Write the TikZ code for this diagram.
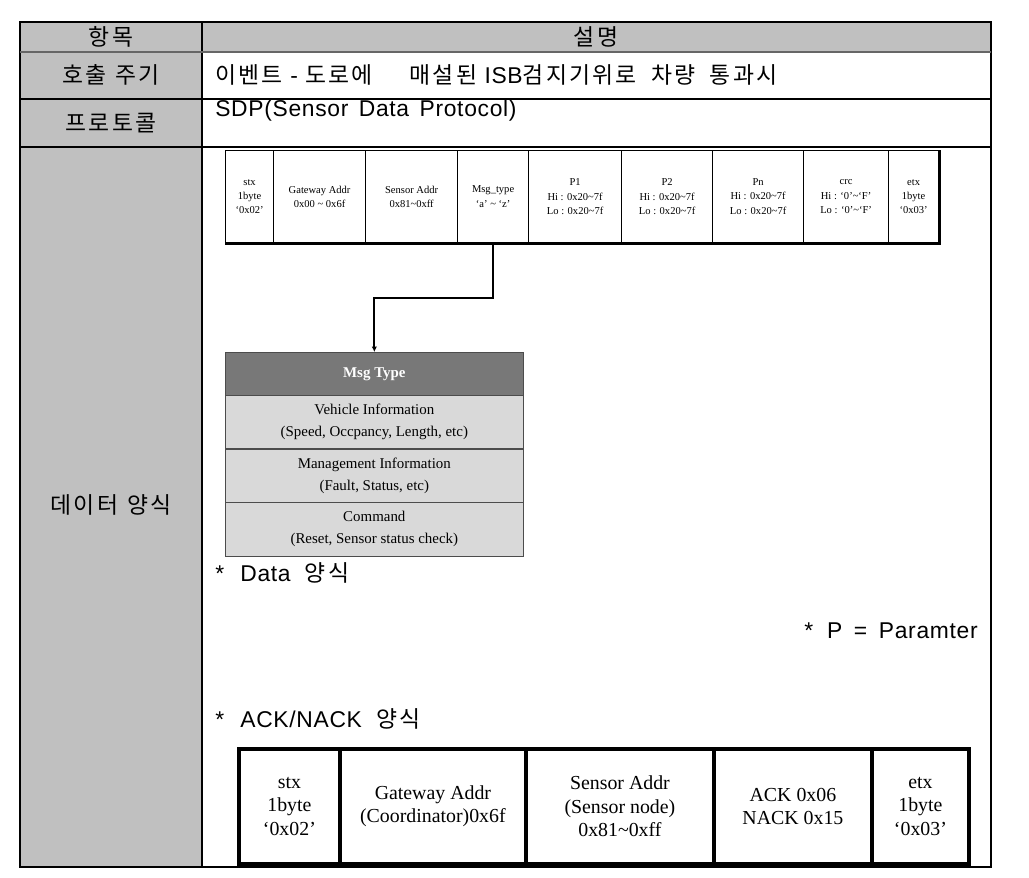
\documentclass[tikz,border=0pt]{standalone}
\usepackage{fontspec}
\newfontfamily\krfont[LetterSpace=10]{Noto Sans CJK KR}
\newfontfamily\latfont[LetterSpace=3]{Liberation Sans}
\newfontfamily\serfont{Liberation Serif}
\usetikzlibrary{positioning,arrows.meta}
\definecolor{tblgray}{HTML}{C0C0C0}
\definecolor{typedark}{HTML}{787878}
\definecolor{typelight}{HTML}{D9D9D9}
\newcommand{\tld}{\textasciitilde}
\newcommand{\lat}[1]{{\latfont #1}}

\begin{document}
\begin{tikzpicture}[x=0.02cm, y=-0.02cm, >={Latex[length=3pt,width=3pt]},
every node/.style={inner sep=0pt},
rowlabel/.style={font=\krfont\fontsize{13}{15}\selectfont},
desc/.style={rowlabel, anchor=west},
field/.style={draw, line width=0.7pt, anchor=north west, minimum height=1.84cm,
  align=center, font=\serfont\fontsize{6}{8}\selectfont},
ackfield/.style={draw, line width=2.2pt, anchor=north west, minimum height=2.3cm,
  align=center, font=\serfont\fontsize{11.3}{13.3}\selectfont},
typehead/.style={draw=black!70, fill=typedark, text=white, anchor=north west,
  minimum width=5.96cm, minimum height=0.86cm, font=\serfont\bfseries\fontsize{8.5}{12}\selectfont},
typerow/.style={draw=black!70, fill=typelight, anchor=north west, align=center,
  minimum width=5.96cm, minimum height=1.07cm, font=\serfont\fontsize{8.5}{12.5}\selectfont}]

\useasboundingbox (0,0) rectangle (1029,877);

% table frame
\fill[tblgray] (20,22) rectangle (202,867);
\fill[tblgray] (202,22) rectangle (991,52);
\draw[line width=0.8pt] (20,22) rectangle (991,867);
\draw[line width=0.8pt] (202,22) -- (202,867);
\draw[line width=1.2pt, black!60] (20,52) -- (991,52);
\foreach \y in {99,147}
  \draw[line width=0.8pt] (20,\y) -- (991,\y);

\node[rowlabel] (colitem) at (111,37) {항목};
\node[rowlabel] (coldesc) at (596,37) {설명};
\node[rowlabel] (period) at (111,75) {호출\hspace{0.4em}주기};
\node[rowlabel] (proto) at (111,123) {프로토콜};
\node[rowlabel] (format) at (111,505) {데이터\hspace{0.4em}양식};

\node[desc] (perioddesc) at (215,75) {이벤트 \lat{-} 도로에\hspace{1.6em}매설된 \lat{ISB}검지기위로\hspace{0.3em} 차량\hspace{0.3em} 통과시};
\node[desc] (protodesc) at (215,111) {\lat{SDP(Sensor\hspace{0.15em} Data\hspace{0.15em} Protocol)}};

% data frame
\node[field, minimum width=0.96cm] (stx) at (225,150) {stx\\1byte\\‘0x02’};
\node[field, minimum width=1.84cm] (gw) at (273,150) {Gateway Addr\\0x00 \tld{} 0x6f};
\node[field, minimum width=1.84cm] (sa) at (365,150) {Sensor Addr\\0x81\tld 0xff};
\node[field, minimum width=1.42cm] (mt) at (457,150) {Msg\_type\\‘a’ \tld{} ‘z’};
\node[field, minimum width=1.86cm] (pa) at (528,150) {P1\\Hi : 0x20\tld 7f\\Lo : 0x20\tld 7f};
\node[field, minimum width=1.82cm] (pb) at (621,150) {P2\\Hi : 0x20\tld 7f\\Lo : 0x20\tld 7f};
\node[field, minimum width=1.82cm] (pn) at (712,150) {Pn\\Hi : 0x20\tld 7f\\Lo : 0x20\tld 7f};
\node[field, minimum width=1.70cm] (crc) at (803,150) {crc\\Hi : ‘0’\tld ‘F’\\Lo : ‘0’\tld ‘F’};
\node[field, minimum width=1.00cm] (etx) at (888,150) {etx\\1byte\\‘0x03’};
\draw[line width=1.8pt] (stx.south west) -- (etx.south east) -- (etx.north east);

% msg type table
\node[typehead] (typehd) at (225,352) {Msg Type};
\node[typerow] (vehicle) at (225,395) {Vehicle Information\\(Speed, Occpancy, Length, etc)};
\node[typerow] (manage) at (225,449) {Management Information\\(Fault, Status, etc)};
\node[typerow] (command) at (225,502) {Command\\(Reset, Sensor status check)};

\draw[->, line width=1.3pt] (mt.south) -- ++(0,55) -| (typehd.north);

\node[desc] (datanote) at (215,573) {\lat{*\hspace{0.4em} Data}\hspace{0.3em} 양식};
\node[rowlabel, anchor=east] (paramnote) at (978,631) {\lat{*\hspace{0.3em} P\hspace{0.2em} =\hspace{0.2em} Paramter}};
\node[desc] (acknote) at (215,719) {\lat{*\hspace{0.4em} ACK/NACK}\hspace{0.3em} 양식};

% ack/nack frame
\node[ackfield, minimum width=2.02cm] (astx) at (237,747) {stx\\1byte\\‘0x02’};
\node[ackfield, minimum width=3.72cm] (agw) at (338,747) {Gateway Addr\\(Coordinator)0x6f};
\node[ackfield, minimum width=3.76cm] (asa) at (524,747) {Sensor Addr\\(Sensor node)\\0x81\tld 0xff};
\node[ackfield, minimum width=3.16cm] (ack) at (712,747) {ACK 0x06\\NACK 0x15};
\node[ackfield, minimum width=1.94cm] (aetx) at (870,747) {etx\\1byte\\‘0x03’};

\end{tikzpicture}
\end{document}
